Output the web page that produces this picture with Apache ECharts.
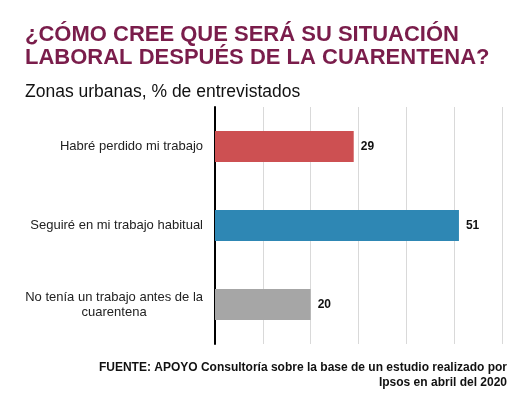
<!DOCTYPE html>
<html>
<head>
<meta charset="utf-8">
<script src="https://cdn.jsdelivr.net/npm/echarts@6/dist/echarts.min.js"></script>
<style>
  html, body { margin: 0; padding: 0; background: #fff; }
  #chart { width: 518px; height: 397px; }
</style>
</head>
<body>
<div id="chart"></div>
<script>
var categories = [
    'Habré perdido mi trabajo',
    'Seguiré en mi trabajo habitual',
    'No tenía un trabajo antes de la\ncuarentena'
];
var values = [29, 51, 20];
var barColors = ['#cd5052', '#2e87b4', '#a6a6a6'];

var myChart = echarts.init(document.getElementById('chart'));
var option = {
    animation: false,
    title: [
        {
            text: '¿CÓMO CREE QUE SERÁ SU SITUACIÓN\nLABORAL DESPUÉS DE LA CUARENTENA?',
            left: 20,
            top: 18,
            textStyle: {
                fontFamily: 'Liberation Sans',
                fontSize: 22,
                fontWeight: 'bold',
                lineHeight: 23,
                color: '#7a1d4b'
            }
        },
        {
            text: 'Zonas urbanas, % de entrevistados',
            left: 20,
            top: 78,
            textStyle: {
                fontFamily: 'Liberation Sans',
                fontSize: 17.5,
                fontWeight: 'normal',
                color: '#111'
            }
        },
        {
            // source note, right edge at x=507
            text: 'FUENTE: APOYO Consultoría sobre la base de un estudio realizado por\nIpsos en abril del 2020',
            left: 507,
            top: 360,
            padding: 0,
            textAlign: 'right',
            textStyle: {
                fontFamily: 'Liberation Sans',
                fontSize: 12,
                fontWeight: 'bold',
                lineHeight: 15,
                color: '#111'
            }
        }
    ],
    grid: { left: 215, right: 16, top: 107, bottom: 53 },
    xAxis: {
        type: 'value',
        min: 0,
        max: 60,
        interval: 10,
        axisLabel: { show: false },
        axisLine: { show: false },
        axisTick: { show: false },
        splitLine: { lineStyle: { color: '#d9d9d9', width: 1 } }
    },
    yAxis: {
        type: 'category',
        inverse: true,
        data: categories,
        axisLine: { lineStyle: { color: '#000', width: 2 } },
        axisTick: { length: 3, lineStyle: { color: '#000', width: 2 } },
        axisLabel: {
            margin: 12,
            fontFamily: 'Liberation Sans',
            fontSize: 13,
            color: '#222',
            lineHeight: 15,
            formatter: function (v) {
                return v.split('\n').map(function (s) { return '{c|' + s + '}'; }).join('\n');
            },
            rich: {
                c: {
                    align: 'center',
                    fontFamily: 'Liberation Sans',
                    fontSize: 13,
                    color: '#222',
                    lineHeight: 15
                }
            }
        }
    },
    series: [{
        type: 'bar',
        data: values.map(function (v, i) {
            return { value: v, itemStyle: { color: barColors[i] } };
        }),
        barWidth: 31,
        label: {
            show: true,
            position: 'right',
            distance: 7,
            fontFamily: 'Liberation Sans',
            fontSize: 12,
            fontWeight: 'bold',
            color: '#111'
        }
    }]
};
myChart.setOption(option);
</script>
</body>
</html>
